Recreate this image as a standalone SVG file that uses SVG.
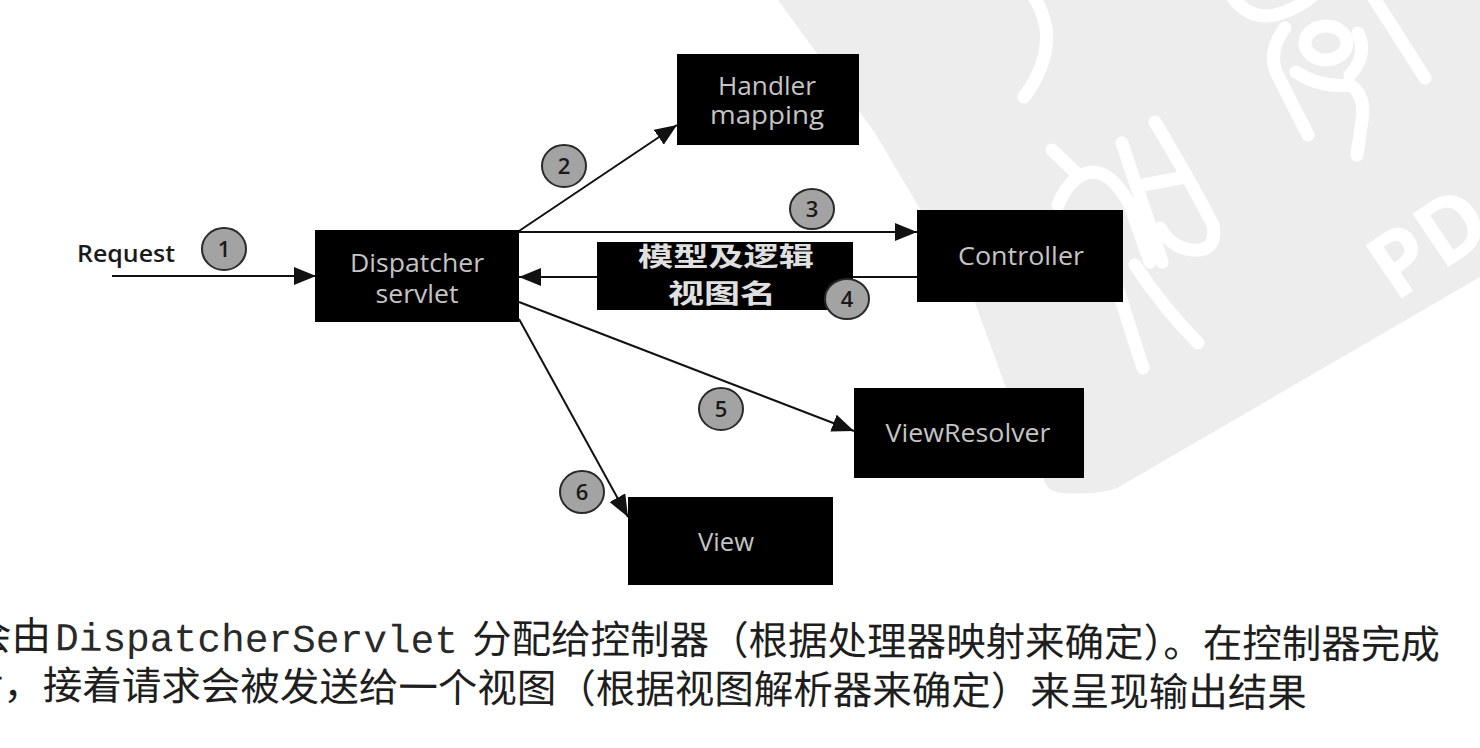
<svg xmlns="http://www.w3.org/2000/svg" width="1480" height="748" viewBox="0 0 1480 748">
<style>
.box{fill:#000}
.nt{font-family:"Open Sans","Liberation Sans",sans-serif;font-size:25px;fill:#c4c4c4;text-anchor:middle}
.edge{stroke:#111;stroke-width:2;fill:none}
.badge ellipse{fill:#a3a3a3;stroke:#2a2a2a;stroke-width:2}
.badge text{font-family:"Open Sans","Liberation Sans",sans-serif;font-size:22px;font-weight:600;fill:#1a1a1a;text-anchor:middle}
.wm{stroke:#fff;stroke-width:13;stroke-linecap:round;stroke-linejoin:round;fill:none}
.cap{font-family:"Noto Sans CJK SC","Noto Sans",sans-serif;font-size:39.5px;fill:#1e1e1e}
.mono{font-family:"Liberation Mono","DejaVu Sans Mono",monospace;fill:#2a2a2a}
.lbl{font-family:"Noto Sans CJK SC",sans-serif;font-size:26px;font-weight:bold;fill:#e0e0e0;text-anchor:middle}
</style>
<defs>
<marker id="ah" markerUnits="userSpaceOnUse" markerWidth="24" markerHeight="20" refX="22" refY="9" orient="auto"><path d="M0,0 L22,9 L0,18 Z" fill="#111"/></marker>
</defs>
<rect width="1480" height="748" fill="#fff"/>
<g id="watermark">
<path d="M778,0 L1480,0 L1480,277 L1117,488 Q1100,495 1060,493 Q1047,491 1044,480 L1005,385 L974,300 L875,133 Z" fill="#ededed"/>
<path class="wm" d="M1024,97 Q1050,62 1046,28 Q1042,8 1032,-6"/>
<path class="wm" d="M1052,150 L1075,172"/>
<path class="wm" d="M1058,205 Q1070,175 1092,172 Q1112,172 1130,205 L1150,262"/>
<path class="wm" d="M1122,143 L1162,262"/>
<path class="wm" d="M1155,122 Q1190,180 1213,225 Q1218,252 1192,250 Q1172,248 1160,228"/>
<path class="wm" d="M1143,185 L1180,178"/>
<path class="wm" d="M1118,290 L1143,368"/>
<path class="wm" d="M1135,265 Q1165,310 1198,343"/>
<path class="wm" d="M1233,-2 Q1250,20 1275,15 Q1300,8 1312,-4"/>
<ellipse class="wm" cx="1326" cy="43" rx="21" ry="17"/>
<path class="wm" d="M1285,28 Q1268,50 1276,72 L1308,135"/>
<path class="wm" d="M1296,72 Q1320,88 1350,85 Q1366,95 1362,120 L1357,155"/>
<path class="wm" d="M1358,33 Q1368,55 1350,75"/>
<path class="wm" d="M1372,-5 L1425,78"/>
<text x="1395" y="303" transform="rotate(-34 1395 303)" font-family="Open Sans, Liberation Sans, sans-serif" font-size="90" font-weight="bold" fill="#fff">PD</text>
</g>
<g id="connectors">
<line id="e1" class="edge" x1="112" y1="276" x2="316" y2="276" marker-end="url(#ah)"/>
<line id="e2" class="edge" x1="519" y1="231" x2="677" y2="125" marker-end="url(#ah)"/>
<line id="e3" class="edge" x1="519" y1="232" x2="917" y2="232" marker-end="url(#ah)"/>
<line id="e4" class="edge" x1="917" y1="277" x2="519" y2="277" marker-end="url(#ah)"/>
<line id="e5" class="edge" x1="519" y1="302" x2="854" y2="431" marker-end="url(#ah)"/>
<line id="e6" class="edge" x1="519" y1="319" x2="628" y2="517" marker-end="url(#ah)"/>
<g id="label-4">
<rect x="597" y="242" width="256" height="68" class="box"/>
<text class="lbl" x="726" y="266" textLength="176" lengthAdjust="spacingAndGlyphs">模型及逻辑</text>
<text class="lbl" x="722" y="303" textLength="108" lengthAdjust="spacingAndGlyphs">视图名</text>
</g>
<g class="badge" id="b1"><ellipse cx="224" cy="249" rx="22" ry="21"/><text x="224" y="257">1</text></g>
<g class="badge" id="b2"><ellipse cx="564" cy="166" rx="22" ry="21"/><text x="564" y="174">2</text></g>
<g class="badge" id="b3"><ellipse cx="812" cy="209" rx="22" ry="20"/><text x="812" y="217">3</text></g>
<g class="badge" id="b4"><ellipse cx="847" cy="299" rx="22" ry="20"/><text x="847" y="307">4</text></g>
<g class="badge" id="b5"><ellipse cx="721" cy="409" rx="22" ry="21"/><text x="721" y="417">5</text></g>
<g class="badge" id="b6"><ellipse cx="582" cy="492" rx="22" ry="21"/><text x="582" y="500">6</text></g>
</g>
<g id="request"><text x="77" y="262" font-family="Open Sans, Liberation Sans, sans-serif" font-size="24" font-weight="600" fill="#1a1a1a" textLength="98" lengthAdjust="spacingAndGlyphs">Request</text></g>
<g id="dispatcher"><rect class="box" x="315" y="230" width="204" height="92"/>
<text class="nt" x="417" y="272" textLength="134" lengthAdjust="spacingAndGlyphs">Dispatcher</text>
<text class="nt" x="417" y="303" textLength="83" lengthAdjust="spacingAndGlyphs">servlet</text></g>
<g id="handler"><rect class="box" x="677" y="54" width="182" height="91"/>
<text class="nt" x="767" y="95" textLength="98" lengthAdjust="spacingAndGlyphs">Handler</text>
<text class="nt" x="767" y="124" textLength="114" lengthAdjust="spacingAndGlyphs">mapping</text></g>
<g id="controller"><rect class="box" x="917" y="210" width="206" height="92"/>
<text class="nt" x="1021" y="265" textLength="126" lengthAdjust="spacingAndGlyphs">Controller</text></g>
<g id="viewresolver"><rect class="box" x="854" y="388" width="230" height="90"/>
<text class="nt" x="968" y="442" textLength="165" lengthAdjust="spacingAndGlyphs">ViewResolver</text></g>
<g id="view"><rect class="box" x="628" y="497" width="205" height="88"/>
<text class="nt" x="726" y="551" textLength="56" lengthAdjust="spacingAndGlyphs">View</text></g>
<g id="caption" transform="rotate(0.35 0 650)">
<text class="cap" y="650"><tspan x="-28">会由</tspan><tspan class="mono" x="55">DispatcherServlet</tspan><tspan x="472">分配给控制器（根据处理器映射来确定）。在控制器完成</tspan><tspan x="-36" y="699">后，接着请求会被发送给一个视图（根据视图解析器来确定）来呈现输出结果</tspan></text>
</g>
</svg>
